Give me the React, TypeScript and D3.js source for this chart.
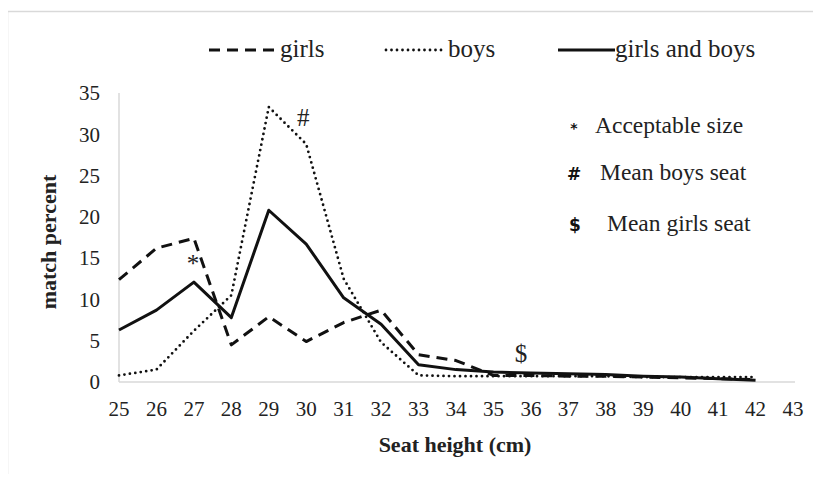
import React, { useRef, useEffect } from 'react';
import * as d3 from 'd3';

// seat heights (cm) on the x axis
const heights = [25, 26, 27, 28, 29, 30, 31, 32, 33, 34, 35, 36, 37, 38, 39, 40, 41, 42, 43];
// match percent per seat height (25..42)
const girls = [12.4, 16.2, 17.4, 4.5, 7.9, 4.9, 7.2, 8.7, 3.3, 2.6, 0.8, 0.8, 0.7, 0.7, 0.6, 0.5, 0.4, 0.3];
const boys = [0.8, 1.5, 6.2, 10.5, 33.3, 28.8, 12.5, 4.8, 0.8, 0.7, 0.7, 0.7, 0.7, 0.7, 0.6, 0.6, 0.6, 0.6];
const both = [6.3, 8.7, 12.1, 7.8, 20.8, 16.7, 10.2, 7.0, 2.1, 1.5, 1.2, 1.1, 1.0, 0.9, 0.7, 0.6, 0.4, 0.2];
const yTicks = [0, 5, 10, 15, 20, 25, 30, 35];

const seriesNames = ['girls', 'boys', 'girls and boys'];
const notes = [
  { sym: '*', text: 'Acceptable size' },
  { sym: '#', text: 'Mean boys seat' },
  { sym: '$', text: 'Mean girls seat' },
];

const SERIF = "'Liberation Serif', 'Times New Roman', Times, serif";

const App = () => {
  const svgRef = useRef<SVGSVGElement>(null);

  useEffect(() => {
    const width = 821, height = 482;
    const svg = d3.select(svgRef.current).attr('width', width).attr('height', height);
    svg.selectAll('*').remove();

    // outer frame
    svg.append('rect')
      .attr('x', 7.5).attr('y', 11.5).attr('width', 830).attr('height', 500)
      .attr('fill', 'white').attr('stroke', '#d9d9d9').attr('stroke-width', 1.5);

    const x = d3.scalePoint<number>().domain(heights).range([119, 793]);
    const y = d3.scaleLinear().domain([0, 35]).range([382, 93]);

    // axes lines
    svg.append('line')
      .attr('x1', 119).attr('x2', 795).attr('y1', y(0)).attr('y2', y(0))
      .attr('stroke', '#d9d9d9').attr('stroke-width', 1.5);
    svg.append('line')
      .attr('x1', 119).attr('x2', 119).attr('y1', y(35)).attr('y2', y(0))
      .attr('stroke', '#d9d9d9').attr('stroke-width', 1.5);

    const g = svg.append('g').attr('font-family', SERIF).attr('fill', '#222');

    // y tick labels
    g.append('g').selectAll('text').data(yTicks).join('text')
      .attr('x', 100).attr('y', d => y(d)).attr('dy', '0.35em')
      .attr('text-anchor', 'end')
      .attr('font-size', 21)
      .text(d => d);

    // x tick labels
    g.append('g').selectAll('text').data(heights).join('text')
      .attr('x', d => x(d)!).attr('y', 416)
      .attr('text-anchor', 'middle')
      .attr('font-size', 21)
      .text(d => d);

    // axis titles
    g.append('text')
      .attr('transform', 'translate(56,242) rotate(-90)')
      .attr('text-anchor', 'middle')
      .attr('font-size', 22).attr('font-weight', 'bold')
      .text('match percent');
    g.append('text')
      .attr('x', 455).attr('y', 452).attr('text-anchor', 'middle')
      .attr('font-size', 22).attr('font-weight', 'bold')
      .text('Seat height (cm)');

    const styles = [
      { data: girls, dash: '11,7', cap: 'butt', w: 3 },
      { data: boys, dash: '0,5.5', cap: 'round', w: 2.8 },
      { data: both, dash: null, cap: 'butt', w: 3 },
    ];

    const line = d3.line<number>()
      .x((_, i) => x(heights[i])!)
      .y(d => y(d));

    styles.forEach(s => {
      svg.append('path')
        .datum(s.data)
        .attr('fill', 'none')
        .attr('stroke', '#111')
        .attr('stroke-width', s.w)
        .attr('stroke-linecap', s.cap)
        .attr('stroke-linejoin', 'round')
        .attr('stroke-dasharray', s.dash)
        .attr('d', line);
    });

    // markers on the chart
    const marks = [
      { sym: '*', xv: 27, dx: -1, yv: 13.3 },
      { sym: '#', xv: 30, dx: -3, yv: 31 },
      { sym: '$', xv: 36, dx: -10, yv: 2.4 },
    ];
    g.append('g').selectAll('text').data(marks).join('text')
      .attr('x', d => x(d.xv)! + d.dx).attr('y', d => y(d.yv))
      .attr('text-anchor', 'middle')
      .attr('font-size', 25)
      .text(d => d.sym);

    // top legend
    const legendPos = [
      { x1: 209, x2: 275, tx: 280 },
      { x1: 386, x2: 442, tx: 448 },
      { x1: 558, x2: 615, tx: 615 },
    ];
    seriesNames.forEach((name, i) => {
      const p = legendPos[i];
      const s = styles[i];
      svg.append('line')
        .attr('x1', p.x1).attr('x2', p.x2).attr('y1', 50).attr('y2', 50)
        .attr('stroke', '#111').attr('stroke-width', s.w)
        .attr('stroke-linecap', s.cap)
        .attr('stroke-dasharray', s.dash);
      g.append('text')
        .attr('x', p.tx).attr('y', 57)
        .attr('font-size', 25)
        .text(name);
    });

    // notes legend
    const notePos = [
      { sx: 574, tx: 595, y: 133 },
      { sx: 574, tx: 600, y: 180 },
      { sx: 575, tx: 607, y: 231 },
    ];
    notes.forEach((n, i) => {
      const p = notePos[i];
      svg.append('text')
        .attr('x', p.sx).attr('y', p.y).attr('text-anchor', 'middle')
        .attr('font-family', "'DejaVu Sans', sans-serif")
        .attr('font-size', n.sym === '*' ? 14 : 17)
        .attr('font-weight', 'bold').attr('fill', '#111')
        .text(n.sym);
      g.append('text')
        .attr('x', p.tx).attr('y', p.y)
        .attr('font-size', 23.5)
        .text(n.text);
    });
  }, []);

  return (
    <div style={{ margin: -8 }}>
      <svg ref={svgRef} style={{ display: 'block' }}></svg>
    </div>
  );
};

export default App;
